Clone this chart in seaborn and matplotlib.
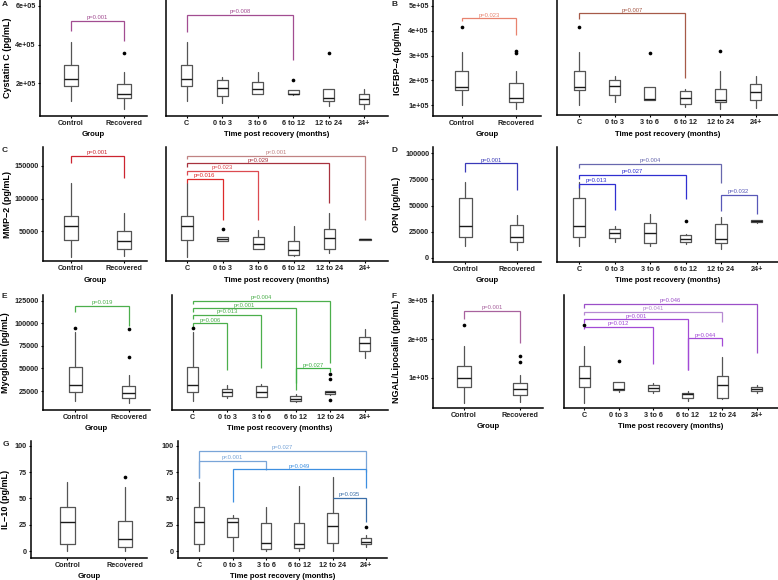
import matplotlib
matplotlib.use("Agg")
import matplotlib.pyplot as plt
import seaborn as sns

sns.set_theme(style="ticks")
plt.rcParams['font.family'] = ['Liberation Sans', 'DejaVu Sans']
plt.rcParams['axes.unicode_minus'] = True

# ---------------------------------------------------------------- data
GROUPS = ["Control", "Recovered"]
TIMES = ["C", "0 to 3", "3 to 6", "6 to 12", "12 to 24", "24+"]

# five-number summaries: (whisker low, Q1, median, Q3, whisker high)
cysc_group = [(1.04e5, 1.84e5, 2.22e5, 2.94e5, 4.13e5), (0.65e5, 1.20e5, 1.43e5, 1.95e5, 2.59e5)]
cysc_group_out = [[], [3.57e5]]
cysc_time = [(1.04e5, 1.84e5, 2.22e5, 2.94e5, 4.13e5), (0.96e5, 1.34e5, 1.76e5, 2.14e5, 2.31e5),
             (1.44e5, 1.44e5, 1.69e5, 2.05e5, 2.59e5), (1.40e5, 1.41e5, 1.44e5, 1.63e5, 1.65e5),
             (0.80e5, 1.06e5, 1.22e5, 1.67e5, 1.67e5), (0.63e5, 0.89e5, 1.18e5, 1.41e5, 1.70e5)]
cysc_time_out = [[], [], [], [2.17e5], [3.57e5], []]

igfbp_group = [(1.00e5, 1.60e5, 1.74e5, 2.37e5, 3.15e5), (0.83e5, 1.11e5, 1.27e5, 1.88e5, 2.39e5)]
igfbp_group_out = [[4.15e5], [3.09e5, 3.19e5]]
igfbp_time = [(1.00e5, 1.60e5, 1.74e5, 2.37e5, 3.15e5), (1.11e5, 1.42e5, 1.76e5, 2.01e5, 2.17e5),
              (1.19e5, 1.20e5, 1.24e5, 1.74e5, 1.74e5), (0.92e5, 1.03e5, 1.30e5, 1.55e5, 1.63e5),
              (0.83e5, 1.11e5, 1.21e5, 1.66e5, 2.37e5), (0.87e5, 1.19e5, 1.53e5, 1.84e5, 2.16e5)]
igfbp_time_out = [[4.15e5], [], [3.09e5], [], [3.19e5], []]

mmp_group = [(10500, 36600, 58000, 73800, 124300), (11500, 22800, 35000, 50200, 78000)]
mmp_group_out = [[], []]
mmp_time = [(10500, 36600, 58000, 73800, 124300), (35100, 35100, 37300, 40800, 40800),
            (21900, 22800, 30500, 40300, 51500), (11000, 13100, 20800, 34600, 57700),
            (16600, 22300, 38700, 53500, 77200), (36500, 36500, 37100, 37800, 37800)]
mmp_time_out = [[], [53500], [], [], [], []]

opn_group = [(11400, 20300, 30500, 56700, 72600), (7300, 15200, 20300, 31700, 40900)]
opn_group_out = [[], []]
opn_time = [(11400, 20300, 30500, 56700, 72600), (14900, 19000, 23800, 27900, 30700),
            (11700, 14000, 23500, 33000, 41600), (13300, 15200, 18100, 22200, 23000),
            (8300, 14000, 18100, 32000, 38700), (33500, 34300, 35200, 36000, 36500)]
opn_time_out = [[], [], [], [35500], [], []]

myo_group = [(13900, 24200, 31600, 51500, 90000), (11700, 16900, 22800, 30900, 42700)]
myo_group_out = [[94300], [62300, 93600]]
myo_time = [(13900, 24200, 31600, 51500, 90000), (16900, 19100, 23500, 27500, 31600),
            (18000, 18000, 24200, 30500, 33100), (12500, 13900, 16100, 19100, 21300),
            (20500, 21300, 23500, 24600, 25500), (61800, 69600, 77800, 85000, 93200)]
myo_time_out = [[94300], [], [], [], [15400, 37900, 43500], []]

ngal_group = [(35000, 75000, 100000, 130400, 182000), (37700, 55100, 71400, 86200, 107000)]
ngal_group_out = [[237000], [141500, 156300]]
ngal_time = [(35000, 75000, 100000, 130400, 182000), (63600, 67300, 71400, 89600, 89600),
             (59500, 66200, 73300, 81800, 86200), (39500, 47300, 57700, 61100, 65200),
             (44700, 48100, 80300, 105200, 154500), (59500, 64700, 69900, 75800, 81000)]
ngal_time_out = [[237000], [144100], [], [], [], []]

il10_group = [(0, 6.9, 27.8, 41.5, 65.8), (0, 3.5, 11.1, 28.5, 61.1)]
il10_group_out = [[], [70]]
il10_time = [(0, 6.9, 27.8, 41.5, 65.8), (0, 13.0, 27.3, 31.0, 34.2), (0, 1.9, 7.9, 26.3, 42.0),
             (0, 2.5, 6.6, 26.9, 61.7), (0, 7.6, 23.7, 36.1, 70.0), (4.1, 6.4, 8.9, 12.1, 15.2)]
il10_time_out = [[], [], [], [], [], [23.1]]

# significance brackets: (from, to, bar, left tip, right tip, label, colour)
cysc_group_br = [(1, 2, 5.22e5, 4.72e5, 4.17e5, "p=0.001", "#a24d91")]
cysc_time_br = [(1, 4, 5.53e5, 4.63e5, 3.19e5, "p=0.008", "#a24d91")]
igfbp_group_br = [(1, 2, 4.50e5, 4.41e5, 3.83e5, "p=0.023", "#e8836f")]
igfbp_time_br = [(1, 4, 4.70e5, 4.46e5, 2.10e5, "p=0.007", "#a65a48")]
mmp_group_br = [(1, 2, 165800, 154000, 131000, "p=0.001", "#cc2530")]
mmp_time_br = [(1, 2, 130000, 124500, 66900, "p=0.016", "#dd2a2a"),
               (1, 3, 142300, 136000, 66900, "p=0.023", "#dc4a50"),
               (1, 5, 154100, 149000, 92600, "p=0.029", "#a8323e"),
               (1, 6, 165800, 160300, 66900, "p<0.001", "#c08383")]
opn_group_br = [(1, 2, 90200, 81600, 64700, "p=0.001", "#3a3ab8")]
opn_time_br = [(1, 2, 70700, 67000, 45700, "p=0.013", "#2f2fd0"),
               (1, 4, 79000, 75200, 56200, "p=0.027", "#2f2fd0"),
               (1, 5, 89800, 86000, 71700, "p=0.004", "#6868ae"),
               (5, 6, 60000, 45000, 41600, "p=0.032", "#5858b8")]
myo_group_br = [(1, 2, 119300, 112700, 97200, "p=0.019", "#4caf4c")]
myo_time_br = [(1, 2, 99900, 96000, 48200, "p=0.006", "#4caf4c"),
               (1, 3, 109000, 105000, 50100, "p=0.013", "#4caf4c"),
               (1, 4, 116500, 112500, 25800, "p<0.001", "#4caf4c"),
               (1, 5, 124900, 120800, 55500, "p=0.004", "#4caf4c"),
               (4, 5, 50100, 33500, 46300, "p=0.027", "#3fb046")]
ngal_group_br = [(1, 2, 273200, 251700, 189300, "p=0.001", "#a8629e")]
ngal_time_br = [(1, 3, 231700, 226000, 134800, "p=0.012", "#a34ad6"),
                (1, 4, 251700, 242000, 120000, "p=0.001", "#a34ad6"),
                (1, 5, 271400, 262000, 245400, "p=0.041", "#b78ad2"),
                (1, 6, 291400, 282000, 163400, "p=0.046", "#9b4fc8"),
                (4, 5, 202300, 120000, 182300, "p=0.044", "#a34ad6")]
il10_group_br = []
il10_time_br = [(1, 6, 95.0, 69.0, 74.7, "p=0.027", "#79a5d8"),
                (1, 3, 85.8, 69.0, 76.9, "p<0.001", "#79a5d8"),
                (2, 6, 77.6, 46.2, 59.5, "p=0.049", "#3d8fe0"),
                (5, 6, 50.6, 50.0, 27.8, "p=0.035", "#3a6ea8")]

# ---------------------------------------------------------------- figure
W, H = 778, 580
fig = plt.figure(figsize=(W / 100, H / 100), dpi=100)
fig.patch.set_facecolor("white")

BOXC = "#555555"
MEDC = "#1a1a1a"
TICK_FS = 5.2
TITLE_FS = 5.6
YLAB_FS = 6.5
PFS = 4.2


def add_ax(left, right, top, bottom):
    return fig.add_axes([left / W, 1 - bottom / H, (right - left) / W, (bottom - top) / H])


def draw(ax, rect, cats, cat_px, stats, outs, brackets, ymap, yticks, yticklabels,
         show_y, width, xlabel, ylabel=None, ylab_px=None):
    left, right, top, bottom = rect
    n = len(cats)
    pos = list(range(1, n + 1))
    bx = [dict(whislo=s[0], q1=s[1], med=s[2], q3=s[3], whishi=s[4], fliers=[]) for s in stats]
    ax.bxp(bx, positions=pos, widths=width, showcaps=False, showfliers=False,
           boxprops=dict(color=BOXC, lw=0.9), whiskerprops=dict(color=BOXC, lw=0.9),
           medianprops=dict(color=MEDC, lw=1.0), manage_ticks=False)
    xs = [p for p, o in zip(pos, outs) for _ in o]
    ys = [v for o in outs for v in o]
    if xs:
        sns.scatterplot(x=xs, y=ys, ax=ax, color="black", s=7, linewidth=0, legend=False, zorder=3)
    for (i, j, yb, yl, yr, lab, col) in brackets:
        ax.plot([i, i, j, j], [yl, yb, yb, yr], color=col, lw=0.9, clip_on=False,
                solid_joinstyle="miter", solid_capstyle="butt")
        ax.annotate(lab, xy=((i + j) / 2, yb), xytext=(0, 0.5), textcoords="offset points",
                    ha="center", va="bottom", fontsize=PFS, color=col)
    # x scale from measured category pixel positions
    unit = (cat_px[1] - cat_px[0]) / (n - 1)
    ax.set_xlim(1 - (cat_px[0] - left) / unit, n + (right - cat_px[1]) / unit)
    # y scale from tick pixel positions
    (pa, va), (pb, vb) = ymap
    per_px = (va - vb) / (pb - pa)
    ax.set_ylim(vb - (bottom - pb) * per_px, va + (pa - top) * per_px)
    ax.set_xticks(pos)
    ax.set_xticklabels(cats, fontsize=TICK_FS, fontweight="bold", color="#222222")
    if show_y:
        ax.set_yticks(yticks)
        ax.set_yticklabels(yticklabels, fontsize=TICK_FS, fontweight="bold", color="#222222")
    else:
        ax.set_yticks([])
    ax.tick_params(axis="both", direction="out", length=1.6, width=0.8, pad=1.4, color="black")
    for s in ("top", "right"):
        ax.spines[s].set_visible(False)
    for s in ("left", "bottom"):
        ax.spines[s].set_linewidth(1.1)
        ax.spines[s].set_color("black")
    ax.set_facecolor("white")
    h = bottom - top
    ax.set_xlabel(xlabel, fontsize=TITLE_FS, fontweight="bold", color="black")
    ax.xaxis.label.set_va("center")
    ax.xaxis.set_label_coords(0.5, -19 / h)
    if ylabel:
        ax.set_ylabel(ylabel, fontsize=YLAB_FS, fontweight="bold", color="black")
        ax.yaxis.label.set_va("center")
        ax.yaxis.set_label_coords((ylab_px - left) / (right - left), 0.5)
    else:
        ax.set_ylabel("")


panels = [
    ("A", (2, 5), (40, 147, 0, 116), (71, 124), (166, 388, 0, 116), (186.7, 364),
     (cysc_group, cysc_group_out, cysc_group_br, cysc_time, cysc_time_out, cysc_time_br),
     ((6, 6e5), (83, 2e5)), [2e5, 4e5, 6e5], ["2e+05", "4e+05", "6e+05"],
     "Cystatin C (pg/mL)", 7.3, False),
    ("B", (392, 5), (433, 541, 0, 116), (461.7, 516), (557.3, 778, 0, 115), (579.3, 755.7),
     (igfbp_group, igfbp_group_out, igfbp_group_br, igfbp_time, igfbp_time_out, igfbp_time_br),
     ((6, 5e5), (105, 1e5)), [1e5, 2e5, 3e5, 4e5, 5e5], ["1e+05", "2e+05", "3e+05", "4e+05", "5e+05"],
     "IGFBP\u22124 (pg/mL)", 397.3, False),
    ("C", (2, 150), (42.7, 147, 147, 261), (71, 124), (166, 388, 147, 261), (187, 365),
     (mmp_group, mmp_group_out, mmp_group_br, mmp_time, mmp_time_out, mmp_time_br),
     ((166, 150000), (231, 50000)), [50000, 100000, 150000], ["50000", "100000", "150000"],
     "MMP\u22122 (pg/mL)", 7.3, False),
    ("D", (392, 150), (433.3, 541, 147, 262), (465.3, 516.7), (556.7, 778, 147, 262), (579, 756.5),
     (opn_group, opn_group_out, opn_group_br, opn_time, opn_time_out, opn_time_br),
     ((153, 100000), (258, 0)), [0, 25000, 50000, 75000, 100000], ["0", "25000", "50000", "75000", "100000"],
     "OPN (pg/mL)", 397, False),
    ("E", (2, 297), (42.7, 150, 295, 410), (75.3, 128.7), (171.7, 388, 295, 410), (192.8, 364.5),
     (myo_group, myo_group_out, myo_group_br, myo_time, myo_time_out, myo_time_br),
     ((300.7, 125000), (391, 25000)), [25000, 50000, 75000, 100000, 125000],
     ["25000", "50000", "75000", "100000", "125000"],
     "Myoglobin (pg/mL)", 5.5, False),
    ("F", (392, 297), (432.7, 543, 295, 408), (464, 520), (563.5, 778, 295, 408), (584.3, 756.7),
     (ngal_group, ngal_group_out, ngal_group_br, ngal_time, ngal_time_out, ngal_time_br),
     ((300.7, 3e5), (377.7, 1e5)), [1e5, 2e5, 3e5], ["1e+05", "2e+05", "3e+05"],
     "NGAL/Lipocalin (pg/mL)", 396, False),
    ("G", (3, 444), (30.7, 147, 441, 558), (67.3, 125), (178, 387, 441, 558), (199.3, 366),
     (il10_group, il10_group_out, il10_group_br, il10_time, il10_time_out, il10_time_br),
     ((445.7, 100), (551, 0)), [0, 25, 50, 75, 100], ["0", "25", "50", "75", "100"],
     "IL\u221210 (pg/mL)", 5.5, True),
]

for (letter, lpx, srect, scat, brect, bcat, d, ymap, yt, ytl, ylab, ylx, big_y) in panels:
    gs, go, gb, ts, to, tb = d
    ax1 = add_ax(*srect)
    draw(ax1, srect, GROUPS, scat, gs, go, gb, ymap, yt, ytl, True, 0.25, "Group", ylab, ylx)
    ax2 = add_ax(*brect)
    draw(ax2, brect, TIMES, bcat, ts, to, tb, ymap, yt, ytl, big_y, 0.31,
         "Time post recovery (months)")
    fig.text(lpx[0] / W, 1 - lpx[1] / H, letter, fontsize=6, fontweight="bold",
             ha="left", va="center")

fig.savefig("out.png", dpi=100, facecolor="white")
